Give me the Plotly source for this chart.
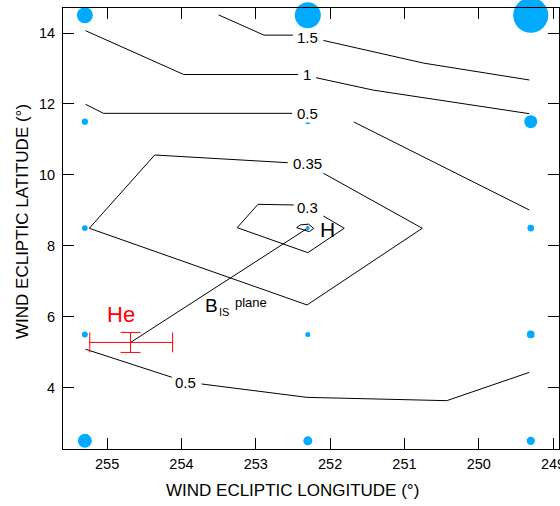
import plotly.graph_objects as go

# ---- data ----
grid_lon = [255.3, 252.3, 249.3, 255.3, 252.3, 249.3, 255.3, 252.3, 249.3,
            255.3, 252.3, 249.3, 255.3, 252.3, 249.3]
grid_lat = [14.5, 14.5, 14.5, 11.5, 11.5, 11.5, 8.5, 8.5, 8.5,
            5.5, 5.5, 5.5, 2.5, 2.5, 2.5]
grid_value = [16, 26, 35, 6.3, 5, 13, 5.7, 4, 6.7, 6, 5, 7.7, 14, 9, 8.3]

c15_lon = [253.50, 252.89, 252.50, None, 252.09, 250.74, 249.32]
c15_lat = [14.51, 13.94, 13.94, None, 13.79, 13.15, 12.675]
c1_lon = [255.29, 253.97, 252.43, None, 252.19, 251.42, 249.32]
c1_lat = [14.065, 12.83, 12.83, None, 12.74, 12.39, 11.725]
c05a_lon = [255.29, 255.05, 252.51, None, 251.68, 249.32]
c05a_lat = [11.99, 11.735, 11.735, None, 11.49, 9.01]
c035_lon = [252.09, 250.76, 252.31, 255.24, 254.36, 252.57]
c035_lat = [10.045, 8.494, 6.332, 8.494, 10.56, 10.343]
c03_lon = [252.09, 251.81, 252.30, 253.25, 252.97, 252.49]
c03_lat = [8.84, 8.494, 7.806, 8.511, 9.17, 9.151]
c025_lon = [252.45, 252.40, 252.29, 252.22, 252.28, 252.45]
c025_lat = [8.51, 8.59, 8.61, 8.49, 8.40, 8.51]
c05b_lon = [255.29, 254.13, None, 253.73, 252.31, 250.43, 249.32]
c05b_lat = [5.083, 4.293, None, 4.104, 3.726, 3.633, 4.431]

level_text = ["1.5", "1", "0.5", "0.35", "0.3", "0.5"]
level_lon = [252.30, 252.31, 252.31, 252.31, 252.30, 253.95]
level_lat = [13.88, 12.82, 11.72, 10.31, 9.09, 4.15]

he_lon, he_lat = 254.685, 5.275
he_err_lon_plus, he_err_lon_minus = 0.549, 0.566
he_err_lat = 0.282
h_lon, h_lat = 252.3, 8.5

x_ticks = [255, 254, 253, 252, 251, 250, 249]
y_ticks = [4, 6, 8, 10, 12, 14]

FONT = "Liberation Sans, Arial, sans-serif"
BLUE = "#00AAFF"

fig = go.Figure()

for lx, ly in [(c15_lon, c15_lat), (c1_lon, c1_lat), (c05a_lon, c05a_lat),
               (c035_lon, c035_lat), (c03_lon, c03_lat), (c025_lon, c025_lat),
               (c05b_lon, c05b_lat)]:
    fig.add_trace(go.Scatter(x=lx, y=ly, mode="lines", connectgaps=False,
                             line=dict(color="black", width=1), hoverinfo="skip"))

# B_IS plane line from He to H
fig.add_trace(go.Scatter(x=[he_lon, h_lon], y=[he_lat, h_lat], mode="lines",
                         line=dict(color="black", width=1)))

fig.add_trace(go.Scatter(x=grid_lon, y=grid_lat, mode="markers", cliponaxis=False,
                         marker=dict(size=grid_value, color=BLUE, line=dict(width=0),
                                     opacity=1)))

fig.add_trace(go.Scatter(
    x=[he_lon], y=[he_lat], mode="markers",
    marker=dict(size=1, color="red"),
    error_x=dict(type="data", symmetric=False, array=[he_err_lon_plus],
                 arrayminus=[he_err_lon_minus], color="red", thickness=1, width=10),
    error_y=dict(type="data", array=[he_err_lat], color="red", thickness=1, width=10),
))

ann = []
for t, x, y in zip(level_text, level_lon, level_lat):
    ann.append(dict(x=x, y=y, text=t, showarrow=False, bgcolor="white", borderpad=0,
                    font=dict(family=FONT, size=15, color="black")))
ann.append(dict(x=252.03, y=8.47, text="H", showarrow=False,
                font=dict(family=FONT, size=21, color="black")))
ann.append(dict(x=254.81, y=6.05, text="He", showarrow=False,
                font=dict(family=FONT, size=22, color="red")))
ann.append(dict(x=253.711, y=6.33, text="B", showarrow=False, xanchor="left",
                font=dict(family=FONT, size=19, color="black")))
ann.append(dict(x=253.52, y=6.135, text="IS", showarrow=False, xanchor="left",
                font=dict(family=FONT, size=11, color="black")))
ann.append(dict(x=253.31, y=6.395, text="plane", showarrow=False, xanchor="left",
                font=dict(family=FONT, size=13, color="black")))
ann.append(dict(xref="paper", yref="paper", x=0.4633, y=0, yshift=-41,
                xanchor="center", yanchor="middle", showarrow=False,
                text="WIND ECLIPTIC LONGITUDE (°)",
                font=dict(family=FONT, size=17, color="black")))
ann.append(dict(xref="paper", yref="paper", x=-0.0827, y=0.517,
                xanchor="center", yanchor="middle", showarrow=False, textangle=-90,
                text="WIND ECLIPTIC LATITUDE (°)",
                font=dict(family=FONT, size=17, color="black")))

axis_common = dict(showline=True, linecolor="black", linewidth=1, mirror="ticks",
                   ticks="inside", ticklen=11, tickwidth=1, tickcolor="black",
                   showgrid=False, zeroline=False, automargin=False,
                   ticklabeloverflow="allow",
                   tickfont=dict(family=FONT, size=14.5, color="black"))

fig.update_layout(
    width=560, height=506, template="none",
    margin=dict(l=63, r=1, t=8, b=57),
    paper_bgcolor="white", plot_bgcolor="white",
    showlegend=False, annotations=ann,
    xaxis=dict(range=[255.594, 248.92], tickmode="array", tickvals=x_ticks,
               ticktext=[str(v) for v in x_ticks], ticklabelstandoff=2, **axis_common),
    yaxis=dict(range=[2.27, 14.705], tickmode="array", tickvals=y_ticks,
               ticktext=[str(v) for v in y_ticks], ticklabelstandoff=4, **axis_common),
)

fig.write_html("out.html", config={"displayModeBar": False},
               post_script="document.body.style.margin='0';document.body.style.overflow='hidden';")
